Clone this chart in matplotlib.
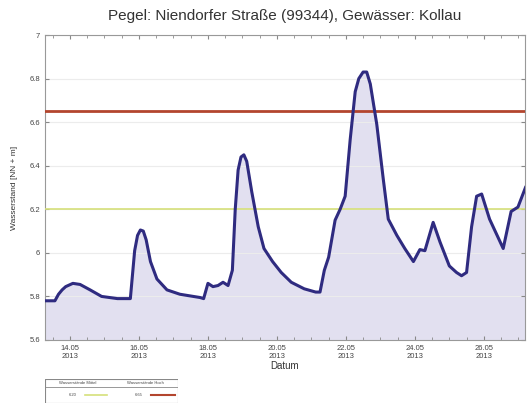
import matplotlib
matplotlib.use("Agg")
from matplotlib import pyplot as plt
import matplotlib.dates as mdates
import pandas as pd

plt.rcParams['font.family'] = ['Liberation Sans', 'DejaVu Sans']

# Wasserstand readings
times = [
    "2013-05-13 07:00", "2013-05-13 13:30", "2013-05-13 16:00", "2013-05-13 18:30",
    "2013-05-13 21:00", "2013-05-14 02:00", "2013-05-14 07:00", "2013-05-14 14:00",
    "2013-05-14 22:00", "2013-05-15 09:00", "2013-05-15 18:00", "2013-05-15 19:30",
    "2013-05-15 21:00", "2013-05-15 23:00", "2013-05-16 01:00", "2013-05-16 03:00",
    "2013-05-16 05:00", "2013-05-16 08:00", "2013-05-16 12:30", "2013-05-16 19:30",
    "2013-05-17 04:30", "2013-05-17 18:30", "2013-05-17 21:00", "2013-05-18 00:00",
    "2013-05-18 03:30", "2013-05-18 07:00", "2013-05-18 10:30", "2013-05-18 14:00",
    "2013-05-18 17:00", "2013-05-18 19:00", "2013-05-18 21:00", "2013-05-18 23:00",
    "2013-05-19 01:00", "2013-05-19 03:00", "2013-05-19 06:30", "2013-05-19 11:00",
    "2013-05-19 15:00", "2013-05-19 21:00", "2013-05-20 03:00", "2013-05-20 10:00",
    "2013-05-20 19:00", "2013-05-21 03:00", "2013-05-21 06:00", "2013-05-21 09:00",
    "2013-05-21 12:00", "2013-05-21 16:30", "2013-05-21 20:00", "2013-05-21 23:30",
    "2013-05-22 03:00", "2013-05-22 06:30", "2013-05-22 09:00", "2013-05-22 12:00",
    "2013-05-22 14:30", "2013-05-22 17:00", "2013-05-22 21:30", "2013-05-23 02:00",
    "2013-05-23 05:30", "2013-05-23 11:30", "2013-05-23 17:00", "2013-05-23 23:00",
    "2013-05-24 03:30", "2013-05-24 07:00", "2013-05-24 12:45", "2013-05-24 17:30",
    "2013-05-25 00:00", "2013-05-25 05:00", "2013-05-25 08:30", "2013-05-25 12:00",
    "2013-05-25 15:30", "2013-05-25 19:00", "2013-05-25 22:30", "2013-05-26 04:00",
    "2013-05-26 13:30", "2013-05-26 19:00", "2013-05-26 23:45", "2013-05-27 05:00",
]
levels = [
    5.78, 5.78, 5.81, 5.83,
    5.845, 5.86, 5.855, 5.83,
    5.80, 5.79, 5.79, 5.90,
    6.01, 6.08, 6.105, 6.10,
    6.06, 5.96, 5.88, 5.83,
    5.81, 5.795, 5.79, 5.86,
    5.845, 5.85, 5.865, 5.85,
    5.92, 6.20, 6.38, 6.44,
    6.45, 6.42, 6.28, 6.12,
    6.02, 5.96, 5.91, 5.865,
    5.835, 5.82, 5.82, 5.92,
    5.98, 6.15, 6.20, 6.26,
    6.52, 6.74, 6.80, 6.83,
    6.83, 6.775, 6.59, 6.34,
    6.155, 6.08, 6.02, 5.96,
    6.015, 6.01, 6.14, 6.05,
    5.94, 5.91, 5.895, 5.91,
    6.12, 6.26, 6.27, 6.155,
    6.02, 6.19, 6.21, 6.30,
]
mittel = 6.20
hoch = 6.65
tick_days = [14, 16, 18, 20, 22, 24, 26]

t = pd.to_datetime(times)

fig = plt.figure(figsize=(5.27, 4.03), dpi=100)
ax = fig.add_axes([45/527, 1 - 340/403, 480/527, 305/403])

ax.fill_between(t, levels, 5.6, color='#e2e0f0', zorder=1)
ax.plot(t, levels, color='#2f2b80', lw=2.2, zorder=4, solid_joinstyle='round')
ax.axhline(mittel, color='#d6e07a', lw=1.2, zorder=3)
ax.axhline(hoch, color='#b3452e', lw=2, zorder=3)

ax.set_ylim(5.6, 7.0)
ax.set_xlim(pd.Timestamp("2013-05-13 06:36"), pd.Timestamp("2013-05-27 04:40"))
ax.set_yticks([5.6, 5.8, 6.0, 6.2, 6.4, 6.6, 6.8, 7.0])
ax.set_yticklabels(['5.6', '5.8', '6', '6.2', '6.4', '6.6', '6.8', '7'])
ax.yaxis.grid(True, color='#ececec', lw=0.8, zorder=0)

ax.xaxis.set_major_locator(mdates.DayLocator(bymonthday=tick_days))
ax.xaxis.set_minor_locator(mdates.HourLocator(byhour=[0, 12]))
ax.xaxis.set_major_formatter(mdates.DateFormatter('%d.%m\n%Y'))

ax.tick_params(axis='both', which='both', direction='in', colors='#888888',
               labelcolor='#444444', labelsize=5.5, top=True, right=True)
ax.tick_params(which='major', length=3)
ax.tick_params(which='minor', length=2)
for s in ax.spines.values():
    s.set_color('#999999')
    s.set_linewidth(0.8)

ax.set_title("Pegel: Niendorfer Straße (99344), Gewässer: Kollau",
             fontsize=11, color='#333333', pad=11)
ax.set_xlabel("Datum", fontsize=7, color='#333333', labelpad=1)
ax.set_ylabel("Wasserstand [NN + m]", fontsize=6, color='#333333', labelpad=8)

# small legend table underneath
lg = fig.add_axes([45/527, 0.0, 133/527, 24/403])
lg.set_xlim(0, 133)
lg.set_ylim(0, 24)
lg.axis('off')
lg.plot([0, 133, 133, 0, 0], [0, 0, 24, 24, 0], color='#888888', lw=0.8)
lg.plot([0, 133], [16, 16], color='#888888', lw=0.6)
lg.text(33, 20, "Wasserstände Mittel", fontsize=3, ha='center', va='center', color='#444444')
lg.text(100, 20, "Wasserstände Hoch", fontsize=3, ha='center', va='center', color='#444444')
lg.text(32, 8, f"{mittel:.2f}", fontsize=3, ha='right', va='center', color='#444444')
lg.text(98, 8, f"{hoch:.2f}", fontsize=3, ha='right', va='center', color='#444444')
lg.plot([40, 62], [8, 8], color='#d6e07a', lw=1.2)
lg.plot([106, 130], [8, 8], color='#b3452e', lw=1.5)

fig.savefig("out.png", dpi=100)
